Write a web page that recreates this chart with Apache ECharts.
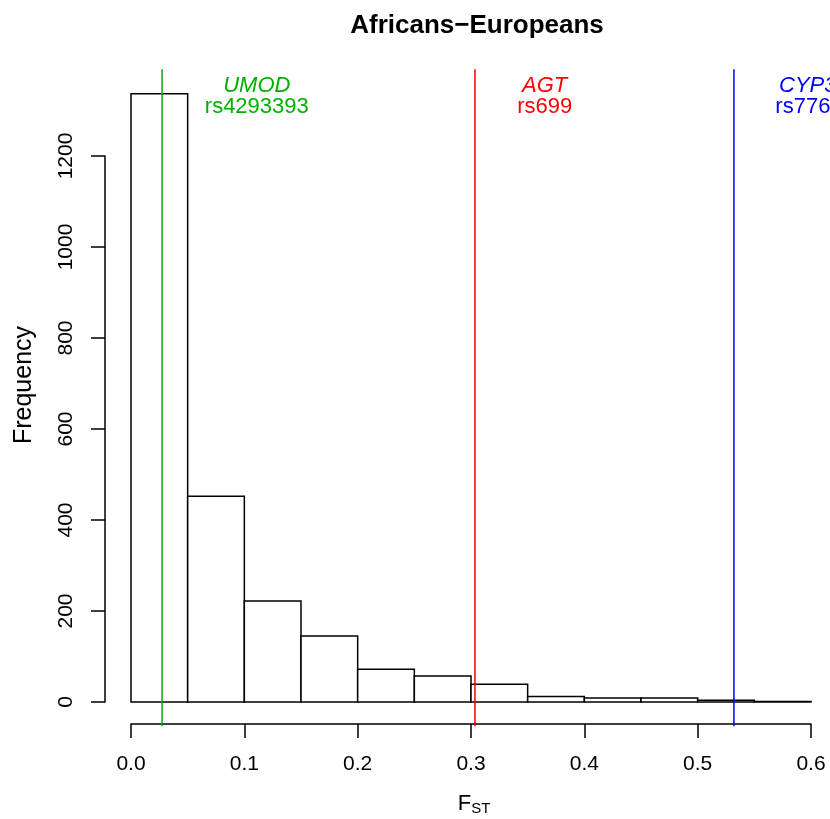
<!DOCTYPE html>
<html>
<head>
<meta charset="utf-8">
<script src="https://cdn.jsdelivr.net/npm/echarts@6/dist/echarts.min.js"></script>
<style>
html,body{margin:0;padding:0;background:#fff;}
#chart{width:830px;height:819px;}
</style>
</head>
<body>
<div id="chart"></div>
<script>
// Histogram bin edges (F_ST) and counts
var binStarts = [0.00, 0.05, 0.10, 0.15, 0.20, 0.25, 0.30, 0.35, 0.40, 0.45, 0.50, 0.55];
var binWidth = 0.05;
var counts = [1337, 452, 222, 145, 72, 57, 39, 12, 9, 9, 4, 1];

// Highlighted SNPs (vertical lines)
var snpNames = ['UMOD', 'AGT', 'CYP3A5'];
var snpIds = ['rs4293393', 'rs699', 'rs776746'];
var snpFst = [0.0274, 0.3035, 0.532];
var snpLabelX = [0.111, 0.365, 0.609];
var snpColors = ['#00B000', '#FF0000', '#0000FF'];

var xTicks = [0.0, 0.1, 0.2, 0.3, 0.4, 0.5, 0.6];
var yTicks = [0, 200, 400, 600, 800, 1000, 1200];

var FONT = '"Liberation Sans", Arial, Helvetica, sans-serif';
var chart = echarts.init(document.getElementById('chart'));

var histData = binStarts.map(function (s, i) { return [s, s + binWidth, counts[i]]; });
var lineData = snpFst.map(function (v, i) { return [v, i]; });
var labelData = snpLabelX.map(function (v, i) { return [v, i]; });

// plot region extends 4% beyond data ranges (R style)
var yTopPad = 1337 * 1.04;
var yBotPad = -1337 * 0.04;

chart.setOption({
  animation: false,
  backgroundColor: '#ffffff',
  title: {
    text: 'Africans\u2212Europeans',
    left: 472, top: 8, textAlign: 'center',
    textStyle: { fontFamily: FONT, fontWeight: 'bold', fontSize: 26, color: '#000' }
  },
  grid: { left: 131, right: 19, top: 156, bottom: 117, outerBoundsMode: 'none', containLabel: false },
  xAxis: {
    type: 'value', min: 0, max: 0.6, interval: 0.1,
    offset: 22,
    splitLine: { show: false },
    axisLine: { show: true, onZero: false, lineStyle: { color: '#000', width: 1.5 } },
    axisTick: { show: true, length: 14, lineStyle: { color: '#000', width: 1.5 } },
    axisLabel: { margin: 30, fontFamily: FONT, fontSize: 21, color: '#000',
      formatter: function (v) { return v.toFixed(1); } },
    name: '{f|F}{s|ST}', nameLocation: 'middle', nameGap: 68,
    nameTextStyle: { padding: [0, 0, 0, 6], rich: {
      f: { fontFamily: FONT, fontSize: 22, color: '#000' },
      s: { fontFamily: FONT, fontSize: 15, color: '#000', verticalAlign: 'bottom', padding: [9, 0, 0, 0] }
    } }
  },
  yAxis: {
    type: 'value', min: 0, max: 1200, interval: 200,
    offset: 26,
    splitLine: { show: false },
    axisLine: { show: true, onZero: false, lineStyle: { color: '#000', width: 1.5 } },
    axisTick: { show: true, length: 14, lineStyle: { color: '#000', width: 1.5 } },
    axisLabel: { rotate: 90, margin: 28, fontFamily: FONT, fontSize: 21, color: '#000',
      formatter: function (v) { return String(v); } },
    name: 'Frequency', nameLocation: 'middle', nameGap: 68, nameRotate: 90,
    nameTextStyle: { fontFamily: FONT, fontSize: 25, color: '#000', padding: [0, 0, 0, 88] }
  },
  series: [
    {
      type: 'custom', clip: false,
      data: histData,
      encode: { x: [0, 1], y: 2 },
      renderItem: function (params, api) {
        var p0 = api.coord([api.value(0), api.value(2)]);
        var p1 = api.coord([api.value(1), 0]);
        return {
          type: 'rect',
          shape: { x: p0[0], y: p0[1], width: p1[0] - p0[0], height: p1[1] - p0[1] },
          style: { fill: '#fff', stroke: '#000', lineWidth: 1.5 }
        };
      }
    },
    {
      type: 'custom', clip: false,
      data: lineData,
      encode: { x: 0 },
      renderItem: function (params, api) {
        var i = api.value(1);
        var a = api.coord([api.value(0), yTopPad]);
        var b = api.coord([api.value(0), yBotPad]);
        return {
          type: 'line',
          shape: { x1: a[0], y1: a[1], x2: b[0], y2: b[1] },
          style: { stroke: snpColors[i], lineWidth: 1.5 }
        };
      }
    },
    {
      type: 'custom', clip: false,
      data: labelData,
      encode: { x: 0 },
      renderItem: function (params, api) {
        var i = api.value(1);
        var p = api.coord([api.value(0), 1354]);
        var q = api.coord([api.value(0), 1307]);
        return {
          type: 'group',
          children: [
            { type: 'text', x: p[0], y: p[1],
              style: { text: snpNames[i], fill: snpColors[i], font: 'italic 22px ' + FONT,
                align: 'center', verticalAlign: 'middle' } },
            { type: 'text', x: q[0], y: q[1],
              style: { text: snpIds[i], fill: snpColors[i], font: '22px ' + FONT,
                align: 'center', verticalAlign: 'middle' } }
          ]
        };
      }
    }
  ]
});
</script>
</body>
</html>
